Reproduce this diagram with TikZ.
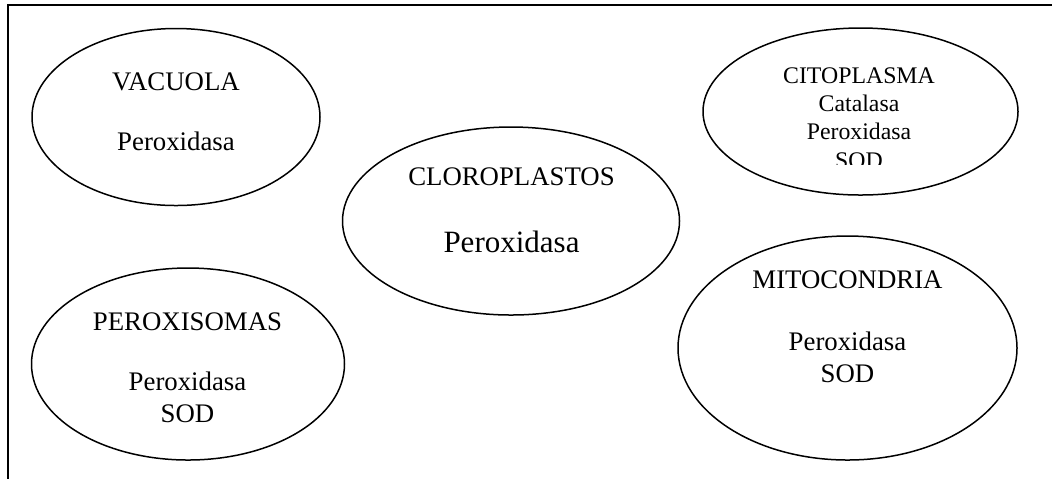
\documentclass[tikz,border=0pt]{standalone}
\usepackage{fontspec}
\setmainfont{Liberation Serif}
\usetikzlibrary{shapes.geometric}
\begin{document}
\begin{tikzpicture}[x=0.5pt,y=-0.5pt,
  organelle/.style={draw, ellipse, line width=0.75pt, inner sep=0pt},
  lbl/.style={anchor=base, inner sep=0pt, font=\fontsize{13.4}{15}\selectfont},
  lblsmall/.style={anchor=base, inner sep=0pt, font=\fontsize{11.9}{14}\selectfont},
  lblbig/.style={anchor=base, inner sep=0pt, font=\fontsize{15.5}{18}\selectfont}]
\useasboundingbox (0,0) rectangle (1052,479);

% open frame: top and left edges only
\coordinate (tl) at (8,4.5);
\coordinate (tr) at (1052,4.5);
\coordinate (bl) at (8,479);
\draw[line width=1pt] (tr) -- (tl) -- (bl);

% compartments
\node[organelle, minimum width=144pt, minimum height=88.5pt] (vac) at (176,117) {};
\node[organelle, minimum width=156.5pt, minimum height=96pt] (perox) at (188,364) {};
\node[organelle, minimum width=168.5pt, minimum height=94pt] (cloro) at (511,221) {};
\node[organelle, minimum width=157.5pt, minimum height=83.5pt] (cito) at (860.5,111.5) {};
\node[organelle, minimum width=169.5pt, minimum height=112pt] (mito) at (847.5,348) {};

% VACUOLA
\node[lbl] (vacT) at (176,90) {VACUOLA};
\node[lbl] (vacP) at (176,150) {Peroxidasa};

% PEROXISOMAS
\node[lbl] (peroxT) at (187.5,330) {PEROXISOMAS};
\node[lbl] (peroxP) at (187.5,390) {Peroxidasa};
\node[lbl] (peroxS) at (187.5,422) {SOD};

% CLOROPLASTOS
\node[lbl] (cloroT) at (511.5,185) {CLOROPLASTOS};
\node[lblbig] (cloroP) at (511.5,252) {Peroxidasa};

% CITOPLASMA (last line cut off at the bottom)
\node[lblsmall] (citoT) at (859,83) {CITOPLASMA};
\node[lblsmall] (citoC) at (859,111) {Catalasa};
\node[lblsmall] (citoP) at (859,139) {Peroxidasa};
\begin{scope}
  \clip (780,145) rectangle (940,164);
  \node[lblsmall] (citoS) at (859,168) {SOD};
\end{scope}

% MITOCONDRIA
\node[lbl] (mitoT) at (847.5,288) {MITOCONDRIA};
\node[lbl] (mitoP) at (847.5,350) {Peroxidasa};
\node[lbl] (mitoS) at (847.5,382) {SOD};
\end{tikzpicture}
\end{document}
